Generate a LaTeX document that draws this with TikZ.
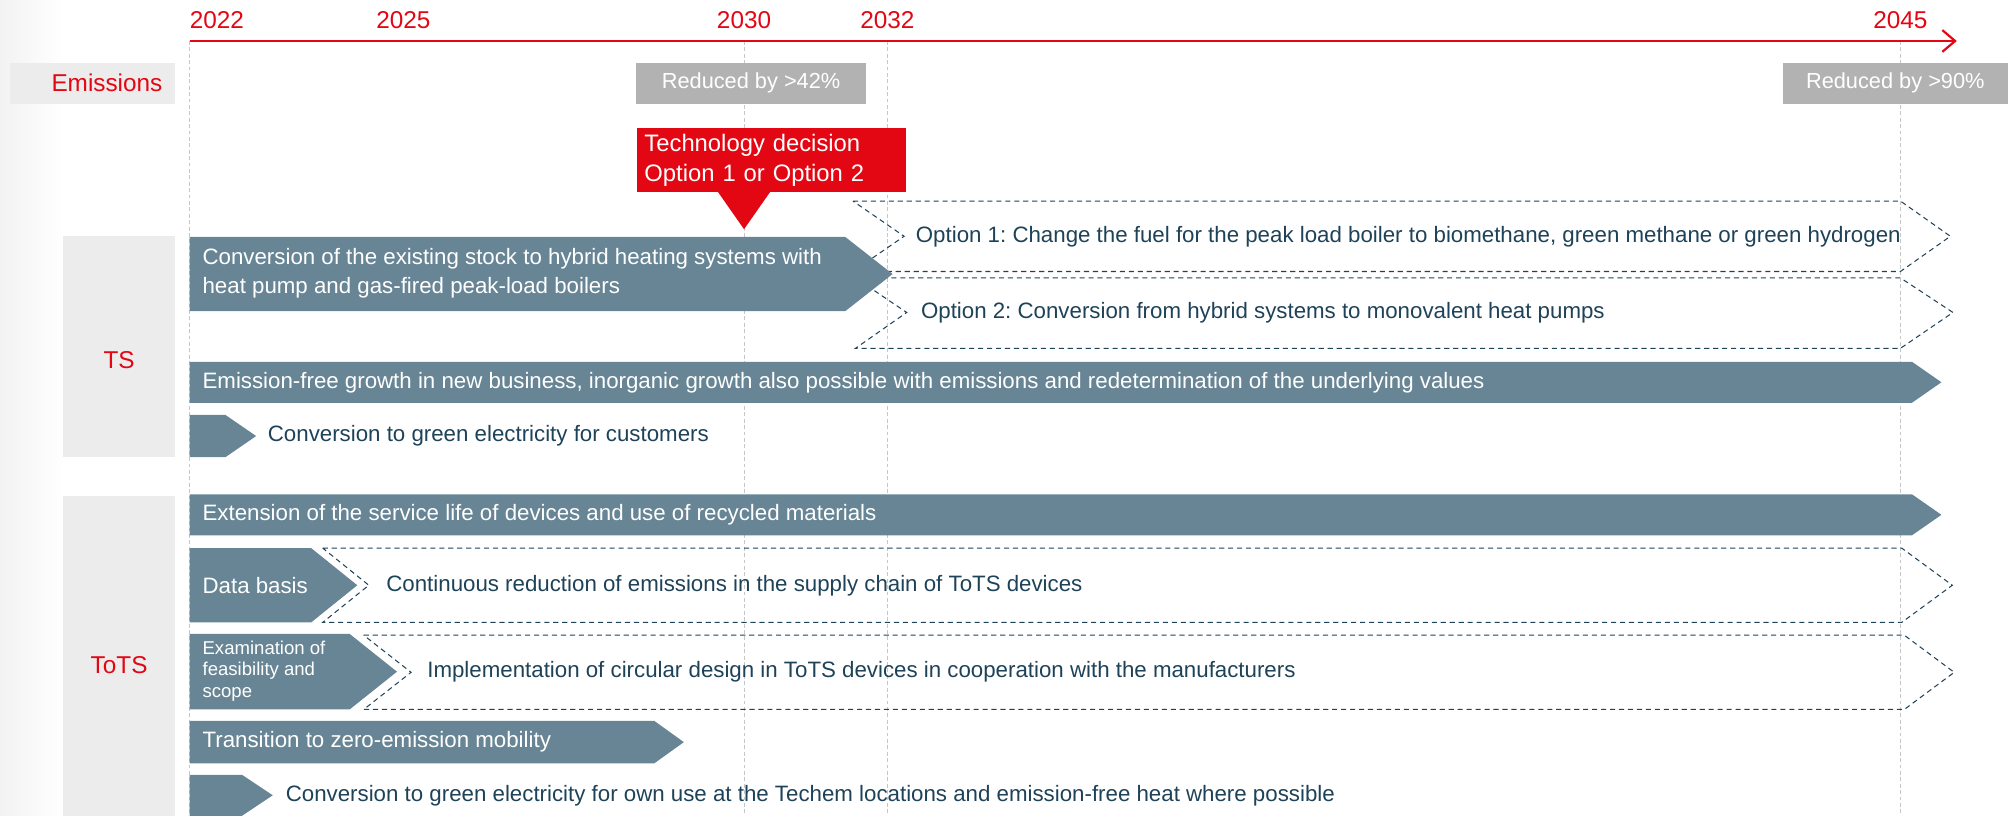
\documentclass[tikz,border=0pt]{standalone}
\usepackage{fontspec}
\setmainfont{Liberation Sans}
\usetikzlibrary{arrows.meta}
\frenchspacing
\definecolor{tred}{HTML}{E30613}
\definecolor{barblue}{HTML}{678594}
\definecolor{navy}{HTML}{1E4258}
\definecolor{labelgray}{HTML}{ECECEC}
\definecolor{boxgray}{HTML}{B2B2B2}

\begin{document}
\begin{tikzpicture}[x=1pt, y=-1pt,
  yearlbl/.style={text=tred, font=\fontsize{19}{21}\selectfont, inner sep=0pt},
  rowlbl/.style={text=tred, font=\fontsize{19}{21}\selectfont, inner sep=0pt},
  target/.style={fill=boxgray, text=white, minimum height=32pt, inner sep=0pt, font=\fontsize{17}{20}\selectfont},
  guide/.style={draw=gray!45, dash pattern=on 3pt off 2pt, line width=0.6pt},
  optline/.style={draw=navy, dash pattern=on 4pt off 3pt, line width=0.8pt},
  barfill/.style={fill=barblue},
  bartext/.style={anchor=west, text=white, inner sep=0pt, align=left, font=\fontsize{17.4}{23}\selectfont},
  opttext/.style={anchor=west, text=navy, inner sep=0pt, font=\fontsize{17.4}{23}\selectfont}]
  \useasboundingbox (0,0) rectangle (1568,637);
  \shade[left color=black!5, right color=white] (0,0) rectangle (50,637);

  % year guides and timeline
  \foreach \gx in {148,581,693,1484}
    \draw[guide] (\gx,32) -- (\gx,637);
  \coordinate (tstart) at (148,32);
  \coordinate (tend) at (1528,32);
  \draw[tred, line width=1.7pt, -{Straight Barb[length=10pt,width=17pt]}] (tstart) -- (tend);
  \node[yearlbl, anchor=west] (y2022) at (148,16) {2022};
  \node[yearlbl] (y2025) at (315,16) {2025};
  \node[yearlbl] (y2030) at (581,16) {2030};
  \node[yearlbl] (y2032) at (693,16) {2032};
  \node[yearlbl] (y2045) at (1484,16) {2045};

  % emissions row
  \fill[labelgray] (8,49) rectangle (137,81);
  \node[rowlbl, anchor=east] (emis) at (127,65) {Emissions};
  \node[target, minimum width=179pt] (red42) at (586.5,65) {Reduced by >42\%};
  \node[target, minimum width=176pt] (red90) at (1480,65) {Reduced by >90\%};

  % technology decision
  \node[fill=tred, text=white, anchor=north west, minimum width=210pt, minimum height=50pt,
    inner xsep=6pt, inner ysep=0pt, text width=198pt, align=left,
    font=\fontsize{18.6}{23}\selectfont] (techdec) at (497,100) {Technology decision\\Option 1 or Option 2};
  \fill[tred] (560,149) -- (581,179) -- (602,149) -- cycle;

  % row labels
  \fill[labelgray] (49,184) rectangle (137,357);
  \node[rowlbl] (ts) at (93,281) {TS};
  \fill[labelgray] (49,387) rectangle (137,637);
  \node[rowlbl] (tots) at (93,519) {ToTS};

  % TS options
  \draw[optline] (666,157) -- (1484,157) -- (1523,184.5) -- (1484,212) -- (666,212) -- (706,184.5) -- cycle;
  \node[opttext] (opt1) at (715,184.5) {Option 1: Change the fuel for the peak load boiler to biomethane, green methane or green hydrogen};
  \draw[optline] (668,217) -- (1484,217) -- (1525,244) -- (1484,272) -- (668,272) -- (708,244) -- cycle;
  \node[opttext] (opt2) at (719,244) {Option 2: Conversion from hybrid systems to monovalent heat pumps};

  % TS bars
  \fill[barfill] (148,185) -- (660,185) -- (697,214) -- (660,243) -- (148,243) -- cycle;
  \node[bartext] (hybrid) at (158,213.5) {Conversion of the existing stock to hybrid heating systems with\\heat pump and gas-fired peak-load boilers};
  \fill[barfill] (148,282.5) -- (1493,282.5) -- (1516,298.5) -- (1493,314.5) -- (148,314.5) -- cycle;
  \node[bartext] (growth) at (158,298.5) {Emission-free growth in new business, inorganic growth also possible with emissions and redetermination of the underlying values};
  \fill[barfill] (148,324) -- (176,324) -- (200,340.5) -- (176,357) -- (148,357) -- cycle;
  \node[opttext] (greencust) at (209,340.5) {Conversion to green electricity for customers};

  % ToTS bars
  \fill[barfill] (148,386) -- (1493,386) -- (1516,402) -- (1493,418) -- (148,418) -- cycle;
  \node[bartext] (servlife) at (158,402) {Extension of the service life of devices and use of recycled materials};

  \draw[optline] (252,428) -- (1485,428) -- (1524.5,457) -- (1485,486) -- (252,486) -- (288,457) -- cycle;
  \fill[barfill] (148,428) -- (243,428) -- (279,457) -- (243,486) -- (148,486) -- cycle;
  \node[bartext] (database) at (158,457) {Data basis};
  \node[opttext] (supply) at (301.5,457) {Continuous reduction of emissions in the supply chain of ToTS devices};

  \draw[optline] (284,496) -- (1487,496) -- (1526,525) -- (1487,554) -- (284,554) -- (321,525) -- cycle;
  \fill[barfill] (148,495) -- (273,495) -- (310,524.5) -- (273,554) -- (148,554) -- cycle;
  \node[bartext, font=\fontsize{14.5}{17}\selectfont] (feasible) at (158,524) {Examination of\\feasibility and\\scope};
  \node[opttext] (circular) at (333.5,524.5) {Implementation of circular design in ToTS devices in cooperation with the manufacturers};

  \fill[barfill] (148,563) -- (511,563) -- (534,579.5) -- (511,596) -- (148,596) -- cycle;
  \node[bartext] (mobility) at (158,579.5) {Transition to zero-emission mobility};
  \fill[barfill] (148,605) -- (189,605) -- (213,621) -- (189,637) -- (148,637) -- cycle;
  \node[opttext] (greenown) at (223,621) {Conversion to green electricity for own use at the Techem locations and emission-free heat where possible};
\end{tikzpicture}
\end{document}
